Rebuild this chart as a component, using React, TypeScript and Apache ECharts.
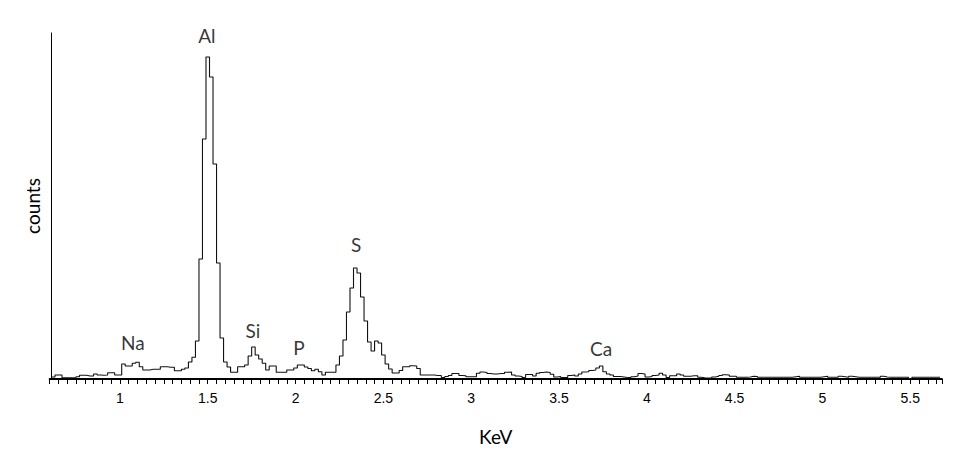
import React, { useEffect, useRef } from "react";
import * as echarts from "echarts";

// Spectrum: bins of 0.02 keV starting at 0.61 keV (counts, arbitrary units)
const BIN_START = 0.61;
const BIN_WIDTH = 0.02;
const counts = [
  20, 40, 40, 13, 13, 13, 15, 23, 37, 37, 30, 30, 50, 40, 37, 40, 63, 63, 40, 40,
  150, 130, 130, 157, 167, 123, 90, 90, 97, 97, 97, 123, 123, 117, 117, 83, 83, 97, 110, 170,
  217, 380, 1200, 2400, 3220, 3020, 2150, 1160, 410, 170, 120, 67, 67, 123, 123, 140, 230, 320, 240, 200,
  157, 90, 130, 130, 67, 67, 67, 90, 90, 110, 140, 140, 120, 105, 83, 97, 73, 40, 67, 67,
  67, 140, 230, 390, 670, 910, 1110, 1060, 820, 580, 370, 280, 380, 360, 240, 150, 100, 60, 60, 85,
  123, 123, 133, 130, 105, 40, 40, 40, 40, 35, 35, 15, 25, 35, 55, 55, 35, 33, 23, 23,
  23, 57, 70, 65, 55, 50, 50, 55, 55, 67, 70, 40, 30, 25, 15, 45, 45, 30, 57, 65,
  70, 65, 47, 20, 25, 15, 15, 35, 40, 30, 50, 70, 72, 85, 90, 110, 130, 73, 50, 40,
  25, 25, 20, 15, 15, 23, 30, 55, 50, 20, 25, 35, 40, 57, 40, 15, 33, 33, 50, 40,
  27, 27, 33, 33, 17, 12, 10, 10, 20, 27, 35, 43, 40, 27, 27, 17, 17, 17, 20, 27,
  25, 17, 17, 17, 17, 17, 17, 17, 17, 17, 17, 22, 27, 17, 17, 17, 17, 17, 17, 22,
  27, 17, 17, 17, 27, 22, 17, 27, 22, 17, 17, 17, 17, 17, 17, 17, 27, 20, 17, 17,
  17, 17, 17, 17, 5, 17, 17, 17, 17, 17, 17, 17, 17,
];

// Element labels
const peakNames = ["Na", "Al", "Si", "P", "S", "Ca"];
const peakEnergy = [1.074, 1.495, 1.757, 2.02, 2.345, 3.74];
const peakLabelY = [370, 3440, 490, 320, 1350, 310];

// X tick labels
const tickLabels = ["1", "1.5", "2", "2.5", "3", "3.5", "4", "4.5", "5", "5.5"];

export default function App() {
  const ref = useRef<HTMLDivElement>(null);

  useEffect(() => {
    if (!ref.current) return;
    const chart = echarts.init(ref.current, null, { renderer: "svg" });

    const data: number[][] = counts.map((v, i) => [
      +(BIN_START + BIN_WIDTH * i).toFixed(2),
      v,
    ]);
    data.push([
      +(BIN_START + BIN_WIDTH * counts.length).toFixed(2),
      counts[counts.length - 1],
    ]);

    const titleFont = { fontFamily: "Lato", fontSize: 19, color: "#000" };

    chart.setOption({
      animation: false,
      backgroundColor: "#ffffff",
      grid: { left: 49.7, right: 26.2, top: 33, bottom: 86, containLabel: false },
      xAxis: {
        type: "value",
        min: 0.6,
        max: 5.68,
        interval: 0.05,
        name: "KeV",
        nameLocation: "middle",
        nameGap: 48,
        nameTextStyle: titleFont,
        axisLine: { show: true, lineStyle: { color: "#000", width: 2 } },
        axisTick: { show: true, length: 5, lineStyle: { color: "#000", width: 1 } },
        axisLabel: {
          margin: 12,
          fontFamily: "Liberation Sans",
          fontSize: 14,
          color: "#000",
          formatter: (v: number) => {
            const t = tickLabels.find((s) => Math.abs(parseFloat(s) - v) < 1e-6);
            return t ? t : "";
          },
        },
        splitLine: { show: false },
      },
      yAxis: {
        type: "value",
        min: 0,
        max: 3460,
        offset: -2,
        name: "counts",
        nameLocation: "middle",
        nameGap: 10,
        nameRotate: 90,
        nameTextStyle: titleFont,
        axisLine: { show: true, lineStyle: { color: "#000", width: 1 } },
        axisTick: { show: false },
        axisLabel: { show: false },
        splitLine: { show: false },
      },
      series: [
        {
          type: "line",
          step: "end",
          data,
          symbol: "none",
          showSymbol: false,
          lineStyle: { color: "#111", width: 1.1 },
          silent: true,
        },
        {
          type: "scatter",
          data: peakNames.map((n, i) => ({ name: n, value: [peakEnergy[i], peakLabelY[i]] })),
          symbolSize: 1,
          itemStyle: { color: "rgba(0,0,0,0)" },
          label: {
            show: true,
            position: "inside",
            formatter: "{b}",
            ...titleFont,
          },
          silent: true,
          z: 5,
        },
      ],
    });

    return () => chart.dispose();
  }, []);

  return (
    <div
      ref={ref}
      style={{ position: "fixed", left: 0, top: 0, width: 968, height: 465, background: "#fff" }}
    />
  );
}
